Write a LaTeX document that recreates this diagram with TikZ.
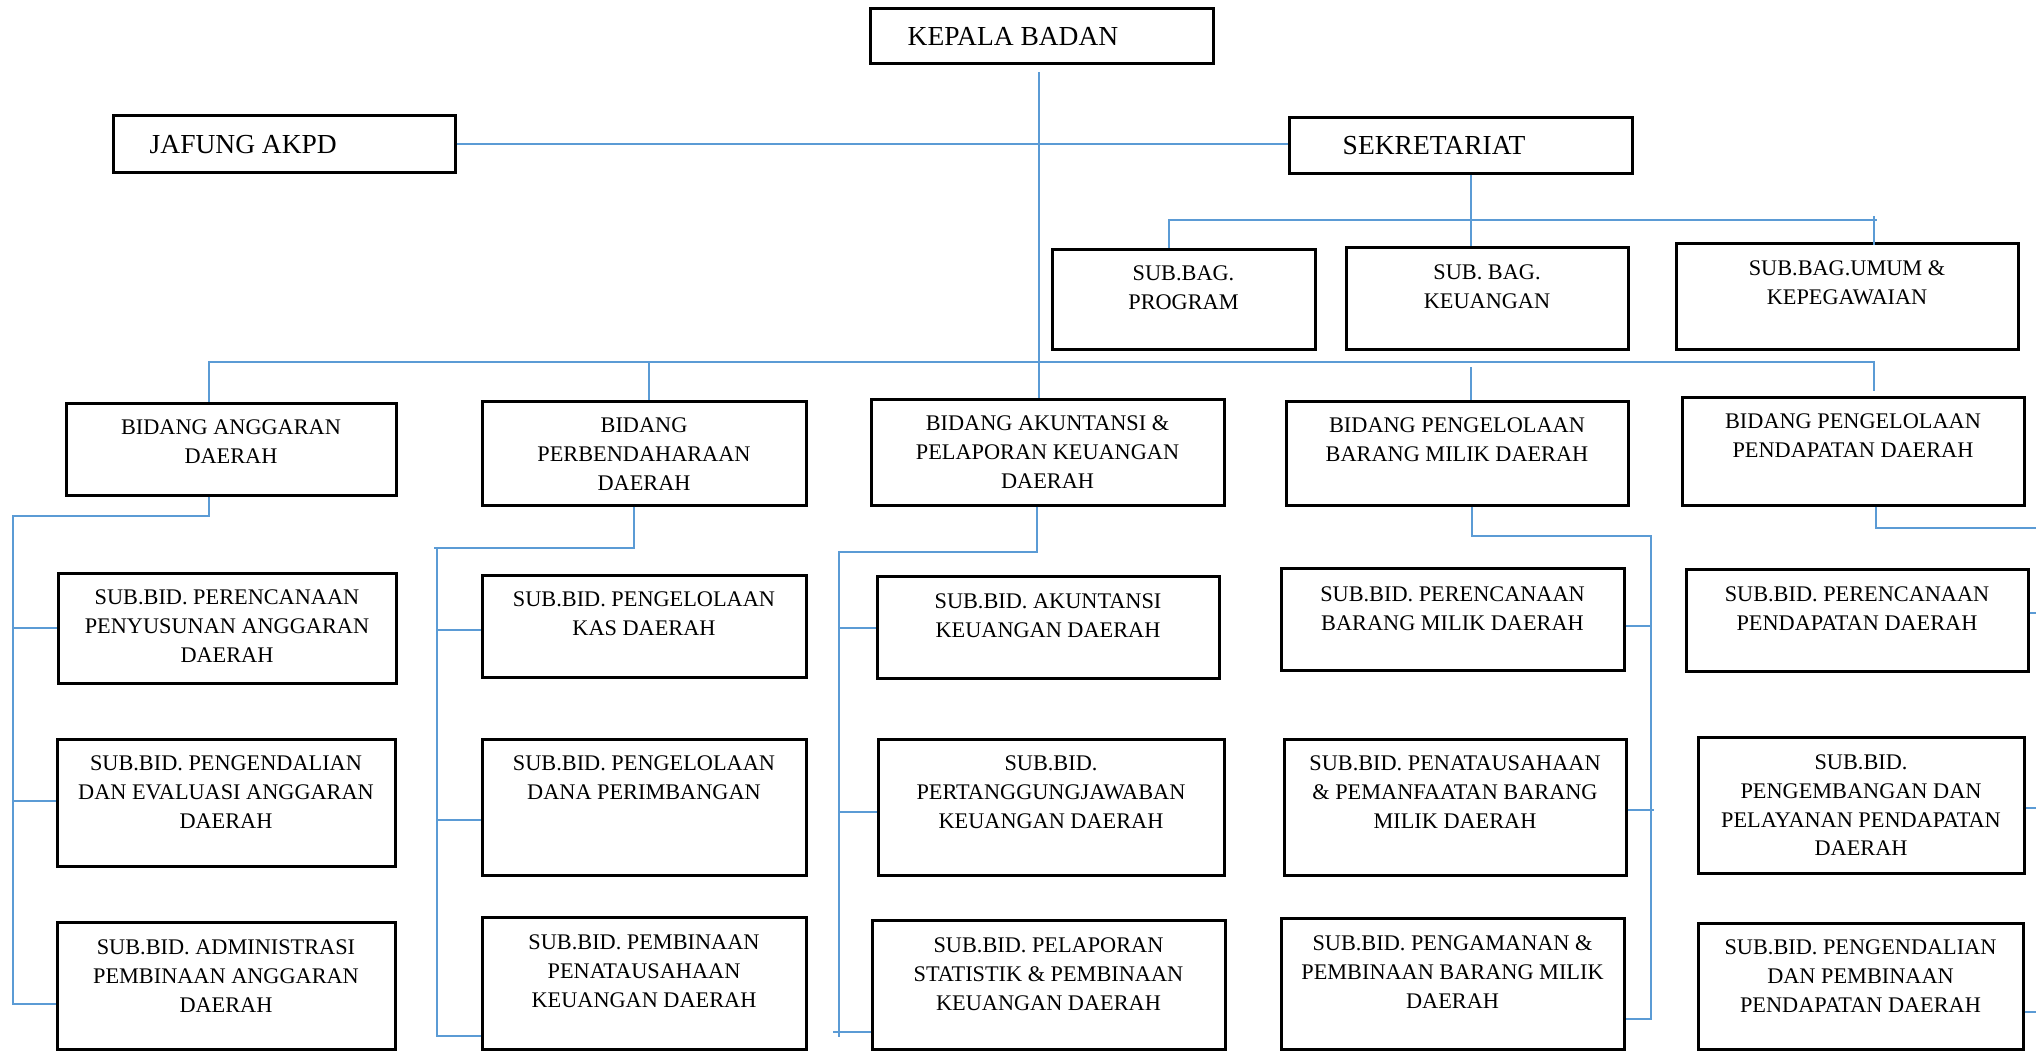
\documentclass[tikz,border=0pt]{standalone}
\usepackage{fontspec}
\setmainfont{Liberation Serif}
\usetikzlibrary{fit,calc}
\definecolor{connblue}{RGB}{91,155,213}
\tikzset{
  boxst/.style={draw=black, line width=3pt, inner sep=0pt},
  txtst/.style={anchor=north, inner sep=0pt, align=center, font=\fontsize{22.3}{28.8}\selectfont},
  bigtxt/.style={anchor=west, inner sep=0pt, font=\fontsize{27.5}{33}\selectfont},
  conn/.style={draw=connblue, line width=2pt},
}
\newcommand\orgbox[5]{%
  \node[boxst, fit={(#2) (#3)}] (#1) {};
  \node[txtst] (#1-t) at (#1.center |- 0,#4) {#5};}
\begin{document}
\begin{tikzpicture}[x=1pt,y=-1pt]
\useasboundingbox (0,0) rectangle (2036,1051);
\fill[white] (0,0) rectangle (2036,1051);

% top level
\node[boxst, fit={(870,9) (1213,64)}] (kepala) {};
\node[bigtxt] (kepala-t) at ([xshift=39pt]kepala.west) {KEPALA BADAN};
\node[boxst, fit={(113,116) (455,173)}] (jafung) {};
\node[bigtxt] (jafung-t) at ([xshift=38pt]jafung.west) {JAFUNG AKPD};
\node[boxst, fit={(1289,118) (1632,174)}] (sek) {};
\node[bigtxt] (sek-t) at ([xshift=55pt]sek.west) {SEKRETARIAT};

% sekretariat sub-sections
\orgbox{sbprog}{1052,249}{1315,349}{265.6}{SUB.BAG.\\PROGRAM}
\orgbox{sbkeu}{1346,247}{1628,349}{264.6}{SUB. BAG.\\KEUANGAN}
\orgbox{sbumum}{1676,243}{2018,349}{260.6}{SUB.BAG.UMUM \&\\KEPEGAWAIAN}

% bidang
\orgbox{bang}{66,403}{396,495}{419.6}{BIDANG ANGGARAN\\DAERAH}
\orgbox{bperb}{482,401}{806,505}{417.6}{BIDANG\\PERBENDAHARAAN\\DAERAH}
\orgbox{bakun}{871,399}{1224,505}{415.6}{BIDANG AKUNTANSI \&\\PELAPORAN KEUANGAN\\DAERAH}
\orgbox{bbar}{1286,401}{1628,505}{417.6}{BIDANG PENGELOLAAN\\BARANG MILIK DAERAH}
\orgbox{bpend}{1682,397}{2024,505}{413.6}{BIDANG PENGELOLAAN\\PENDAPATAN DAERAH}

% sub bidang anggaran
\orgbox{sa1}{58,573}{396,683}{589.6}{SUB.BID. PERENCANAAN\\PENYUSUNAN ANGGARAN\\DAERAH}
\orgbox{sa2}{57,739}{395,866}{755.6}{SUB.BID. PENGENDALIAN\\DAN EVALUASI ANGGARAN\\DAERAH}
\orgbox{sa3}{57,922}{395,1049}{939.6}{SUB.BID. ADMINISTRASI\\PEMBINAAN ANGGARAN\\DAERAH}
% sub bidang perbendaharaan
\orgbox{sp1}{482,575}{806,677}{591.6}{SUB.BID. PENGELOLAAN\\KAS DAERAH}
\orgbox{sp2}{482,739}{806,875}{755.6}{SUB.BID. PENGELOLAAN\\DANA PERIMBANGAN}
\orgbox{sp3}{482,917}{806,1049}{934.6}{SUB.BID. PEMBINAAN\\PENATAUSAHAAN\\KEUANGAN DAERAH}
% sub bidang akuntansi
\orgbox{sk1}{877,576}{1219,678}{593.6}{SUB.BID. AKUNTANSI\\KEUANGAN DAERAH}
\orgbox{sk2}{878,739}{1224,875}{755.6}{SUB.BID.\\PERTANGGUNGJAWABAN\\KEUANGAN DAERAH}
\orgbox{sk3}{872,920}{1225,1049}{937.6}{SUB.BID. PELAPORAN\\STATISTIK \& PEMBINAAN\\KEUANGAN DAERAH}
% sub bidang barang
\orgbox{sb1}{1281,568}{1624,670}{586.6}{SUB.BID. PERENCANAAN\\BARANG MILIK DAERAH}
\orgbox{sb2}{1284,739}{1626,875}{755.6}{SUB.BID. PENATAUSAHAAN\\\& PEMANFAATAN BARANG\\MILIK DAERAH}
\orgbox{sb3}{1281,918}{1624,1049}{935.6}{SUB.BID. PENGAMANAN \&\\PEMBINAAN BARANG MILIK\\DAERAH}
% sub bidang pendapatan
\orgbox{sd1}{1686,569}{2028,671}{586.6}{SUB.BID. PERENCANAAN\\PENDAPATAN DAERAH}
\orgbox{sd2}{1698,737}{2024,873}{754.6}{SUB.BID.\\PENGEMBANGAN DAN\\PELAYANAN PENDAPATAN\\DAERAH}
\orgbox{sd3}{1698,923}{2023,1049}{939.6}{SUB.BID. PENGENDALIAN\\DAN PEMBINAAN\\PENDAPATAN DAERAH}

% ---------- connectors ----------
\coordinate (sbus) at (0,220);
\coordinate (bbus) at (0,362);

\draw[conn] (jafung.east) -- (jafung.east -| sek.west);
\draw[conn] ([xshift=-2.5pt,yshift=-7pt]kepala.south) -- ([xshift=-2.5pt]kepala.south |- bakun.north);

\draw[conn] ([xshift=10pt]sek.south) -- ([xshift=10pt]sek.south |- sbkeu.north);
\draw[conn] ([xshift=-14.5pt]sbprog.north) |- ([xshift=30pt]sbumum.north |- sbus);
\draw[conn] ([xshift=27pt,yshift=-3pt]sbumum.north) -- ([xshift=27pt]sbumum.north |- 0,216);

\draw[conn] ([xshift=-22pt]bang.north) |- ([xshift=21pt]bpend.north |- bbus)
  -- ([xshift=21pt,yshift=5pt]bpend.north);
\draw[conn] ([xshift=5pt]bperb.north) -- ([xshift=5pt]bperb.north |- bbus);
\draw[conn] ([xshift=14pt]bbar.north) -- ([xshift=14pt]bbar.north |- 0,367);

% anggaran group
\coordinate (aspine) at (13,516);
\draw[conn] ([xshift=-22pt]bang.south) |- (aspine) -- (aspine |- 0,1004) -- (sa3.west |- 0,1004);
\draw[conn] (aspine |- sa1.west) -- (sa1.west);
\draw[conn] (aspine |- 0,801) -- (sa2.west |- 0,801);
% perbendaharaan group
\coordinate (pspine) at (437,548);
\draw[conn] ([xshift=-10pt]bperb.south) |- ([xshift=-3pt]pspine);
\draw[conn] (pspine) -- (pspine |- 0,1036) -- (sp3.west |- 0,1036);
\draw[conn] (pspine |- 0,630) -- (sp1.west |- 0,630);
\draw[conn] (pspine |- 0,820) -- (sp2.west |- 0,820);
% akuntansi group
\coordinate (kspine) at (839,552);
\draw[conn] ([xshift=-10.5pt]bakun.south) |- (kspine) -- (kspine |- 0,1037);
\draw[conn] ([xshift=-6pt]kspine |- 0,1032) -- (sk3.west |- 0,1032);
\draw[conn] (kspine |- 0,628) -- (sk1.west |- 0,628);
\draw[conn] (kspine |- 0,812) -- (sk2.west |- 0,812);
% barang group
\coordinate (bspine) at (1651,536);
\draw[conn] ([xshift=15pt]bbar.south) |- (bspine) -- (bspine |- 0,1019) -- (sb3.east |- 0,1019);
\draw[conn] (sb1.east |- 0,626) -- (bspine |- 0,626);
\draw[conn] (sb2.east |- 0,810) -- ([xshift=3pt]bspine |- 0,810);
% pendapatan group
\coordinate (dspine) at (2046,528);
\draw[conn] ([xshift=23pt]bpend.south) |- (dspine) -- (dspine |- 0,1012);
\draw[conn] (sd1.east |- 0,613) -- (dspine |- 0,613);
\draw[conn] (sd2.east |- 0,808) -- (dspine |- 0,808);
\draw[conn] (sd3.east |- 0,1012) -- (dspine |- 0,1012);
\end{tikzpicture}
\end{document}
